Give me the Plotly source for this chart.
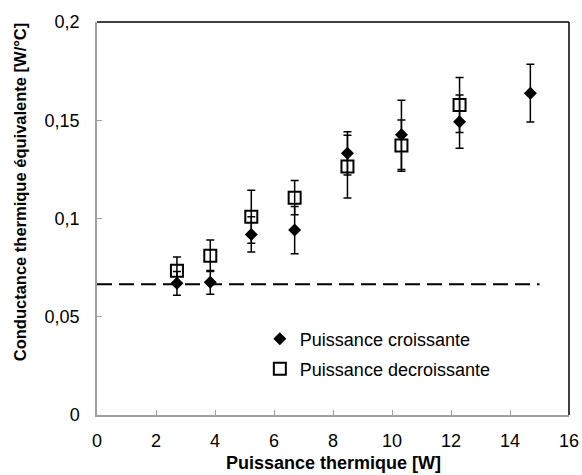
import plotly.graph_objects as go

# Data
x_crois = [2.71, 3.84, 5.23, 6.70, 8.49, 10.32, 12.29, 14.69]
y_crois = [0.0670, 0.0675, 0.0919, 0.0941, 0.1332, 0.1426, 0.1493, 0.1638]
e_crois = [0.006, 0.006, 0.009, 0.012, 0.011, 0.0176, 0.0135, 0.0147]

x_decr = [2.71, 3.84, 5.23, 6.70, 8.49, 10.32, 12.29]
y_decr = [0.0734, 0.0810, 0.1009, 0.1106, 0.1264, 0.1371, 0.1578]
e_decr = [0.007, 0.008, 0.0135, 0.0087, 0.016, 0.013, 0.014]

ref_x = [0, 15]
ref_y = [0.0665, 0.0665]

x_ticks = [0, 2, 4, 6, 8, 10, 12, 14, 16]
y_ticks = [0, 0.05, 0.1, 0.15, 0.2]

FONT = "Arial, Liberation Sans, sans-serif"

fig = go.Figure()

fig.add_trace(go.Scatter(
    x=ref_x, y=ref_y, mode="lines",
    line=dict(color="black", width=2, dash="15px,7px"),
    showlegend=False, hoverinfo="skip"))

fig.add_trace(go.Scatter(
    x=x_crois, y=y_crois, mode="markers", name="Puissance croissante",
    marker=dict(symbol="diamond", size=10, color="black"),
    error_y=dict(type="data", array=e_crois, color="black", thickness=1.5, width=4),
    legend="legend"))

fig.add_trace(go.Scatter(
    x=x_decr, y=y_decr, mode="markers", name="Puissance decroissante",
    marker=dict(symbol="square-open", size=12, color="black", line=dict(width=2)),
    error_y=dict(type="data", array=e_decr, color="black", thickness=1.5, width=4),
    legend="legend2"))

axis_common = dict(
    showgrid=False, zeroline=False, showline=True, linecolor="#a0a0a0", linewidth=1.5,
    ticks="inside", ticklen=5, tickcolor="#a0a0a0", tickwidth=1, automargin=False,
    tickfont=dict(family=FONT, size=18, color="black"),
)

fig.update_layout(
    width=582, height=475,
    margin=dict(l=97, r=13, t=22, b=60, autoexpand=False),
    paper_bgcolor="white", plot_bgcolor="white",
    separators=", ",
    font=dict(family=FONT, color="black"),
    xaxis=dict(range=[0, 16], tickvals=x_ticks, ticklabelstandoff=9, **axis_common),
    yaxis=dict(range=[0, 0.2], tickvals=y_ticks, ticklabelstandoff=12, **axis_common),
    legend=dict(x=0.345, y=0.1934, xanchor="left", yanchor="middle",
                font=dict(family=FONT, size=18), bgcolor="rgba(0,0,0,0)"),
    legend2=dict(x=0.345, y=0.117, xanchor="left", yanchor="middle",
                 font=dict(family=FONT, size=18), bgcolor="rgba(0,0,0,0)"),
    shapes=[
        dict(type="line", xref="paper", yref="paper", x0=0, x1=1, y0=1, y1=1,
             line=dict(color="black", width=1.5)),
        dict(type="line", xref="paper", yref="paper", x0=1, x1=1, y0=0, y1=1,
             line=dict(color="black", width=1.5)),
    ],
    annotations=[
        dict(text="<b>Conductance thermique équivalente [W/°C]</b>", textangle=-90,
             xref="paper", yref="paper", x=-0.163, y=0.567, xanchor="center", yanchor="middle",
             showarrow=False, font=dict(family=FONT, size=16.5, color="black")),
        dict(text="<b>Puissance thermique [W]</b>",
             xref="paper", yref="paper", x=0.5, y=-0.122, xanchor="center", yanchor="middle",
             showarrow=False, font=dict(family=FONT, size=18, color="black")),
    ],
)

fig.write_html(
    "out.html",
    config={"displayModeBar": False},
    post_script="document.body.style.margin='0';document.body.style.overflow='hidden';",
)
